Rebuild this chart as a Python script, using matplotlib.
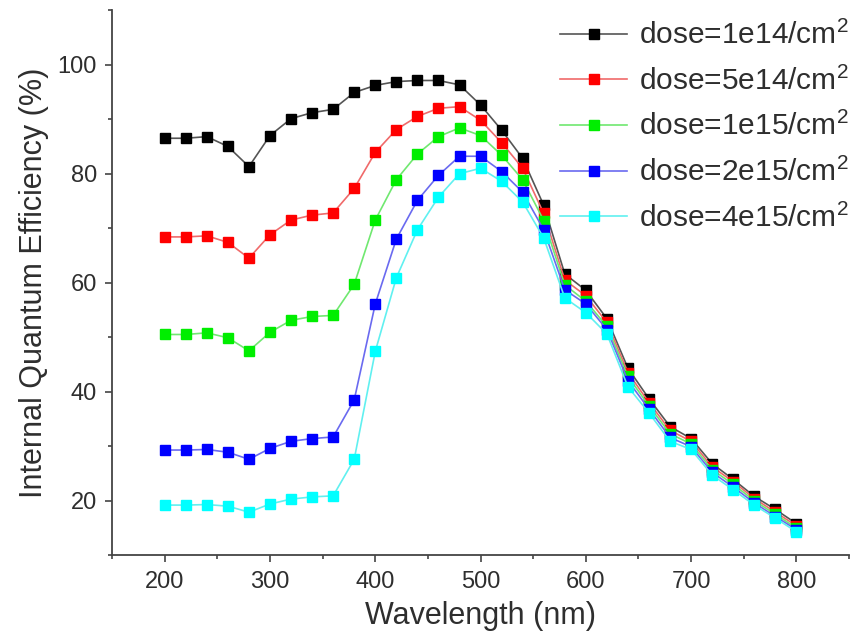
import matplotlib
matplotlib.use("Agg")
from matplotlib import pyplot as plt
from matplotlib.ticker import MultipleLocator

plt.rcParams['font.family'] = ['Liberation Sans', 'DejaVu Sans']
plt.rcParams['mathtext.default'] = 'regular'

wavelength = list(range(200, 801, 20))

iqe_1e14 = [86.5, 86.5, 86.8, 85.0, 81.3, 87.0, 90.1, 91.2, 91.8, 94.9, 96.2, 96.9, 97.1, 97.1, 96.3, 92.6,
            88.0, 82.8, 74.2, 61.6, 58.6, 53.4, 44.3, 38.7, 33.6, 31.4, 26.8, 23.9, 20.8, 18.4, 15.8]
iqe_5e14 = [68.4, 68.4, 68.6, 67.4, 64.5, 68.8, 71.5, 72.4, 72.8, 77.3, 83.9, 88.1, 90.5, 92.0, 92.3, 89.8,
            85.7, 81.0, 72.7, 60.5, 57.6, 52.7, 43.5, 38.0, 32.9, 30.9, 26.2, 23.5, 20.4, 17.9, 15.4]
iqe_1e15 = [50.5, 50.5, 50.8, 49.9, 47.5, 50.9, 53.1, 53.8, 54.0, 59.7, 71.5, 78.9, 83.6, 86.8, 88.4, 87.0,
            83.4, 78.9, 71.4, 59.6, 56.6, 52.0, 42.8, 37.4, 32.3, 30.4, 25.7, 23.0, 20.0, 17.5, 15.0]
iqe_2e15 = [29.3, 29.3, 29.4, 28.9, 27.6, 29.6, 30.9, 31.4, 31.7, 38.5, 56.1, 68.0, 75.1, 79.7, 83.2, 83.2,
            80.4, 76.6, 69.7, 58.7, 56.1, 51.4, 42.0, 36.8, 31.6, 29.9, 25.2, 22.5, 19.6, 17.1, 14.7]
iqe_4e15 = [19.2, 19.2, 19.3, 19.0, 17.9, 19.4, 20.3, 20.7, 20.9, 27.6, 47.4, 60.9, 69.7, 75.7, 80.0, 81.0,
            78.6, 74.8, 68.2, 57.2, 54.5, 50.6, 40.9, 36.1, 30.9, 29.4, 24.7, 22.0, 19.2, 16.8, 14.3]

series = [iqe_1e14, iqe_5e14, iqe_1e15, iqe_2e15, iqe_4e15]
labels = ['dose=1e14/cm$^2$', 'dose=5e14/cm$^2$', 'dose=1e15/cm$^2$',
          'dose=2e15/cm$^2$', 'dose=4e15/cm$^2$']
marker_colors = ['#000000', '#ff0000', '#00ee00', '#0000ff', '#00ffff']
line_colors = ['#555555', '#f06a6a', '#70e870', '#6a6af0', '#60f0f0']

txt = '#2e2e2e'
fig = plt.figure(figsize=(8.62, 6.36), dpi=100)
ax = fig.add_axes([0.130, 0.127, 0.855, 0.857])

for y, lab, mc, lc in zip(series, labels, marker_colors, line_colors):
    ax.plot(wavelength, y, color=lc, lw=1.2, marker='s', markersize=7,
            markerfacecolor=mc, markeredgecolor=mc, label=lab)

ax.set_xlim(150, 850)
ax.set_ylim(10, 110)
ax.xaxis.set_major_locator(MultipleLocator(100))
ax.xaxis.set_minor_locator(MultipleLocator(50))
ax.yaxis.set_major_locator(MultipleLocator(20))
ax.yaxis.set_minor_locator(MultipleLocator(10))
ax.spines['top'].set_visible(False)
ax.spines['right'].set_visible(False)
for s in ['left', 'bottom']:
    ax.spines[s].set_linewidth(1.3)
    ax.spines[s].set_color('#444444')
ax.tick_params(which='major', direction='out', length=5, width=1.2, colors='#444444',
               labelsize=17, labelcolor=txt, pad=6)
ax.tick_params(which='minor', direction='out', length=3, width=1.2, colors='#444444')

ax.set_xlabel('Wavelength (nm)', fontsize=22, color=txt, labelpad=6)
ax.set_ylabel('Internal Quantum Efficiency (%)', fontsize=22, color=txt, labelpad=6)

leg = ax.legend(loc='upper left', frameon=False, fontsize=21.5, handlelength=2.25,
                handletextpad=0.4, labelspacing=0.55, borderpad=0, borderaxespad=0,
                bbox_to_anchor=(560 / 862, 1 - 21 / 636), bbox_transform=fig.transFigure)
for t in leg.get_texts():
    t.set_color(txt)

fig.savefig('out.png', dpi=100)
